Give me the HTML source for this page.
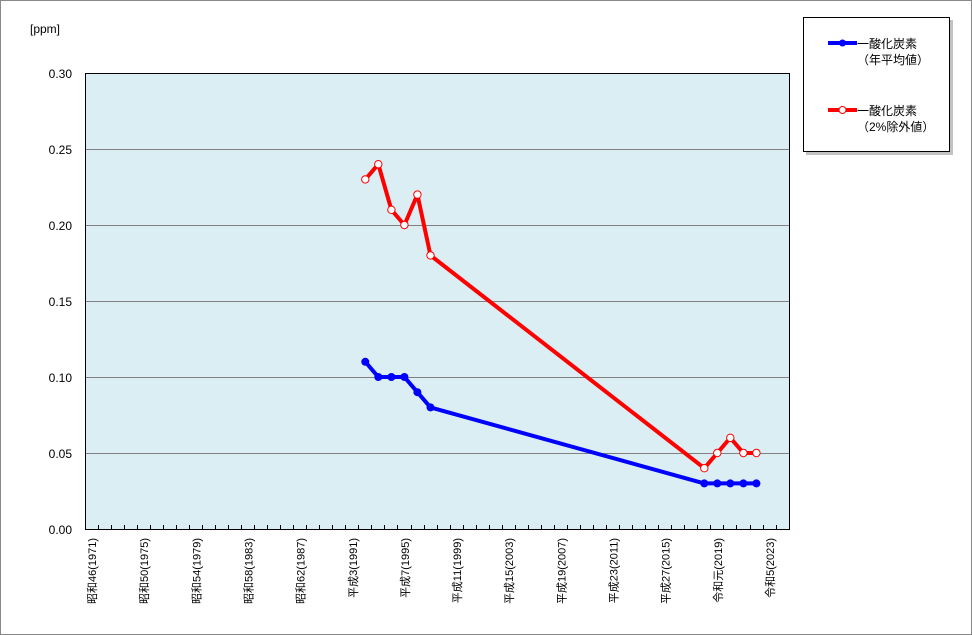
<!DOCTYPE html>
<html><head><meta charset="utf-8"><style>
html,body{margin:0;padding:0;background:#fff;}
svg{display:block;}
text{font-family:"Liberation Sans","Noto Sans CJK JP",sans-serif;fill:#000;}
</style></head><body>
<svg width="972" height="635" viewBox="0 0 972 635" xmlns="http://www.w3.org/2000/svg">
<rect x="0.5" y="0.5" width="971" height="634" fill="#fff" stroke="#888" stroke-width="1"/>
<text x="30" y="33" font-size="12">[ppm]</text>
<rect x="85.5" y="73.5" width="704" height="456" fill="#DAEEF3"/>
<g stroke="#808080" stroke-width="1">
<line x1="85" y1="149.5" x2="789" y2="149.5"/>
<line x1="85" y1="225.5" x2="789" y2="225.5"/>
<line x1="85" y1="301.5" x2="789" y2="301.5"/>
<line x1="85" y1="377.5" x2="789" y2="377.5"/>
<line x1="85" y1="453.5" x2="789" y2="453.5"/>
</g>
<rect x="85.5" y="73.5" width="704" height="456" fill="none" stroke="#000" stroke-width="1"/>
<g font-size="12" text-anchor="end">
<text x="72" y="78">0.30</text>
<text x="72" y="154">0.25</text>
<text x="72" y="230">0.20</text>
<text x="72" y="306">0.15</text>
<text x="72" y="382">0.10</text>
<text x="72" y="458">0.05</text>
<text x="72" y="534">0.00</text>
</g>
<g font-size="11" text-anchor="end">
<text transform="translate(96,538) rotate(-90)">昭和46(1971)</text>
<text transform="translate(148.2,538) rotate(-90)">昭和50(1975)</text>
<text transform="translate(200.3,538) rotate(-90)">昭和54(1979)</text>
<text transform="translate(252.5,538) rotate(-90)">昭和58(1983)</text>
<text transform="translate(304.6,538) rotate(-90)">昭和62(1987)</text>
<text transform="translate(356.8,538) rotate(-90)">平成3(1991)</text>
<text transform="translate(408.9,538) rotate(-90)">平成7(1995)</text>
<text transform="translate(461.1,538) rotate(-90)">平成11(1999)</text>
<text transform="translate(513.2,538) rotate(-90)">平成15(2003)</text>
<text transform="translate(565.4,538) rotate(-90)">平成19(2007)</text>
<text transform="translate(617.5,538) rotate(-90)">平成23(2011)</text>
<text transform="translate(669.7,538) rotate(-90)">平成27(2015)</text>
<text transform="translate(721.8,538) rotate(-90)">令和元(2019)</text>
<text transform="translate(774,538) rotate(-90)">令和5(2023)</text>
</g>
<!-- ticks -->
<path stroke="#000" stroke-width="1" fill="none" d="
M98.5 529V525 M111.5 529V525 M124.5 529V525 M137.5 529V525 M150.5 529V525 M163.5 529V525 M176.5 529V525 M189.5 529V525 M202.5 529V525 M215.5 529V525
M228.5 529V525 M241.5 529V525 M254.5 529V525 M267.5 529V525 M280.5 529V525 M293.5 529V525 M306.5 529V525 M319.5 529V525 M332.5 529V525 M345.5 529V525
M358.5 529V525 M371.5 529V525 M384.5 529V525 M397.5 529V525 M411.5 529V525 M424.5 529V525 M437.5 529V525 M450.5 529V525 M463.5 529V525 M476.5 529V525
M489.5 529V525 M502.5 529V525 M515.5 529V525 M528.5 529V525 M541.5 529V525 M554.5 529V525 M567.5 529V525 M580.5 529V525 M593.5 529V525 M606.5 529V525
M619.5 529V525 M632.5 529V525 M645.5 529V525 M658.5 529V525 M671.5 529V525 M684.5 529V525 M697.5 529V525 M710.5 529V525 M723.5 529V525 M736.5 529V525
M750.5 529V525 M763.5 529V525 M776.5 529V525"/>
<!-- blue series -->
<polyline fill="none" stroke="#0000FF" stroke-width="4" stroke-linejoin="round" points="365.3,361.8 378.3,377 391.4,377 404.4,377 417.4,392.2 430.5,407.4 704.3,483.4 717.3,483.4 730.3,483.4 743.4,483.4 756.4,483.4"/>
<g fill="#0000FF">
<circle cx="365.3" cy="361.8" r="4"/><circle cx="378.3" cy="377" r="4"/><circle cx="391.4" cy="377" r="4"/><circle cx="404.4" cy="377" r="4"/><circle cx="417.4" cy="392.2" r="4"/><circle cx="430.5" cy="407.4" r="4"/>
<circle cx="704.3" cy="483.4" r="4"/><circle cx="717.3" cy="483.4" r="4"/><circle cx="730.3" cy="483.4" r="4"/><circle cx="743.4" cy="483.4" r="4"/><circle cx="756.4" cy="483.4" r="4"/>
</g>
<!-- red series -->
<polyline fill="none" stroke="#FF0000" stroke-width="4" stroke-linejoin="round" points="365.3,179.4 378.3,164.2 391.4,209.8 404.4,225 417.4,194.6 430.5,255.4 704.3,468.2 717.3,453 730.3,437.8 743.4,453 756.4,453"/>
<g fill="#fff" stroke="#FF0000" stroke-width="1">
<circle cx="365.3" cy="179.4" r="3.7"/><circle cx="378.3" cy="164.2" r="3.7"/><circle cx="391.4" cy="209.8" r="3.7"/><circle cx="404.4" cy="225" r="3.7"/><circle cx="417.4" cy="194.6" r="3.7"/><circle cx="430.5" cy="255.4" r="3.7"/>
<circle cx="704.3" cy="468.2" r="3.7"/><circle cx="717.3" cy="453" r="3.7"/><circle cx="730.3" cy="437.8" r="3.7"/><circle cx="743.4" cy="453" r="3.7"/><circle cx="756.4" cy="453" r="3.7"/>
</g>
<!-- legend -->
<rect x="806" y="20" width="147" height="135" fill="#999" opacity="0.6"/>
<rect x="803.5" y="17.5" width="146" height="134" fill="#fff" stroke="#000" stroke-width="1"/>
<line x1="828" y1="43" x2="857" y2="43" stroke="#0000FF" stroke-width="4"/>
<circle cx="842.5" cy="43" r="3.5" fill="#0000FF"/>
<text x="857" y="48" font-size="12">一酸化炭素</text>
<text x="857" y="64" font-size="12">（年平均値）</text>
<line x1="828" y1="110" x2="857" y2="110" stroke="#FF0000" stroke-width="4"/>
<circle cx="842.5" cy="110" r="3.5" fill="#fff" stroke="#FF0000" stroke-width="1"/>
<text x="857" y="115" font-size="12">一酸化炭素</text>
<text x="857" y="131" font-size="12">（2%除外値）</text>
</svg>
</body></html>
